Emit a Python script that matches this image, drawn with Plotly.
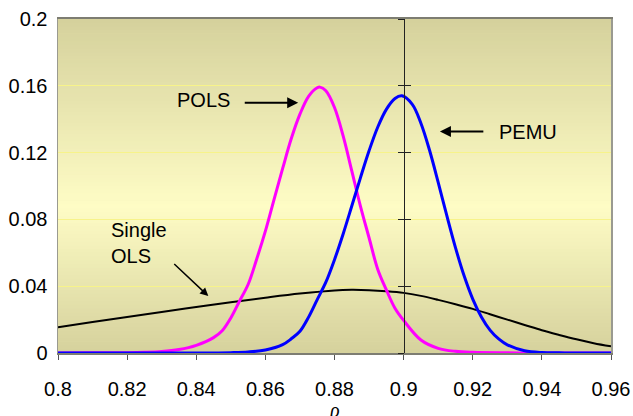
import plotly.graph_objects as go

# ---- data ----
pols_x = [0.800, 0.810, 0.820, 0.825, 0.830, 0.835, 0.840, 0.845, 0.8475, 0.850,
          0.8525, 0.855, 0.8575, 0.860, 0.8625, 0.865, 0.8675, 0.870, 0.8725, 0.875,
          0.8758, 0.8775, 0.880, 0.8825, 0.885, 0.8875, 0.890, 0.8925, 0.895, 0.8975,
          0.900, 0.905, 0.910, 0.915, 0.920, 0.930, 0.940, 0.960]
pols_y = [0.0000, 0.0001, 0.0002, 0.0004, 0.0009, 0.0021, 0.0046, 0.0092, 0.0133, 0.0210,
          0.0310, 0.0410, 0.0563, 0.0730, 0.0919, 0.1105, 0.1284, 0.1430, 0.1537, 0.1588,
          0.1592, 0.1570, 0.1470, 0.1300, 0.1090, 0.0880, 0.0690, 0.0502, 0.0378, 0.0268,
          0.0195, 0.0078, 0.0028, 0.0010, 0.0004, 0.0001, 0.0000, 0.0000]

pemu_x = [0.800, 0.840, 0.850, 0.855, 0.860, 0.865, 0.8675, 0.870, 0.8725, 0.875,
          0.8775, 0.880, 0.8825, 0.885, 0.8875, 0.890, 0.8925, 0.895, 0.8975, 0.8995,
          0.9025, 0.905, 0.9075, 0.910, 0.9125, 0.915, 0.9175, 0.920, 0.9225, 0.925,
          0.9275, 0.930, 0.935, 0.940, 0.945, 0.950, 0.960]
pemu_y = [0.0000, 0.0000, 0.0002, 0.0006, 0.0018, 0.0050, 0.0085, 0.0130, 0.0215, 0.0320,
          0.0424, 0.0559, 0.0713, 0.0880, 0.1049, 0.1211, 0.1352, 0.1459, 0.1524, 0.1540,
          0.1489, 0.1376, 0.1214, 0.1022, 0.0822, 0.0631, 0.0462, 0.0323, 0.0216, 0.0137,
          0.0084, 0.0049, 0.0014, 0.0003, 0.0001, 0.0000, 0.0000]

ols_x = [0.800, 0.810, 0.820, 0.830, 0.840, 0.850, 0.860, 0.870, 0.880, 0.885,
         0.890, 0.895, 0.900, 0.905, 0.910, 0.915, 0.920, 0.925, 0.930, 0.935,
         0.940, 0.945, 0.950, 0.955, 0.960]
ols_y = [0.0154, 0.0185, 0.0215, 0.0246, 0.0275, 0.0304, 0.0331, 0.0356, 0.0375, 0.0378,
         0.0376, 0.0370, 0.0360, 0.0342, 0.0318, 0.0292, 0.0264, 0.0232, 0.0200, 0.0168,
         0.0136, 0.0108, 0.0082, 0.0059, 0.0040]

x_range = [0.8, 0.96]
y_range = [0, 0.2]
y_dtick = 0.04
x_dtick = 0.02
cross_x = 0.9  # where the vertical value axis crosses

FONT = "Liberation Sans, Arial, sans-serif"

fig = go.Figure()
fig.add_trace(go.Scatter(x=ols_x, y=ols_y, mode="lines", line=dict(color="black", width=2, shape="spline", smoothing=1),
                         cliponaxis=False, showlegend=False, hoverinfo="skip"))
fig.add_trace(go.Scatter(x=pols_x, y=pols_y, mode="lines", line=dict(color="#ff00ff", width=3, shape="spline", smoothing=1),
                         cliponaxis=False, showlegend=False, hoverinfo="skip"))
fig.add_trace(go.Scatter(x=pemu_x, y=pemu_y, mode="lines", line=dict(color="#0000ff", width=3, shape="spline", smoothing=1),
                         cliponaxis=False, showlegend=False, hoverinfo="skip"))
# empty traces so the crossing axes are drawn
fig.add_trace(go.Scatter(x=[], y=[], yaxis="y2", showlegend=False, hoverinfo="skip"))
fig.add_trace(go.Scatter(x=[], y=[], yaxis="y3", showlegend=False, hoverinfo="skip"))

# background gradient (dark - light - dark)
def mix(c1, c2, t):
    return "rgb(%d,%d,%d)" % tuple(round(a + (b - a) * t) for a, b in zip(c1, c2))

edge = (213, 209, 156)
mid = (254, 252, 197)
mid_pos = 0.44
N = 90
shapes = []
for i in range(N):
    y0 = i / N
    y1 = (i + 1) / N
    yc = (y0 + y1) / 2
    if yc < mid_pos:
        t = yc / mid_pos
    else:
        t = (1 - yc) / (1 - mid_pos)
    shapes.append(dict(type="rect", xref="paper", yref="paper", x0=0, x1=1, y0=y0, y1=y1 + 0.002,
                       fillcolor=mix(edge, mid, t), line=dict(width=0), layer="below"))

pos = (cross_x - x_range[0]) / (x_range[1] - x_range[0])

tickfont = dict(family=FONT, size=20, color="black")

fig.update_layout(
    width=633, height=416,
    margin=dict(l=58, r=22, t=19, b=63, autoexpand=False),
    paper_bgcolor="white",
    plot_bgcolor=mix(edge, mid, 0.5),
    shapes=shapes,
    xaxis=dict(range=x_range, dtick=x_dtick, tick0=0.8, showgrid=False, zeroline=False,
               showline=True, linecolor="#7d7d72", linewidth=2, mirror=True,
               ticks="outside", ticklen=5, tickcolor="#555", tickwidth=1,
               tickfont=tickfont, ticklabelstandoff=12),
    yaxis=dict(range=y_range, dtick=y_dtick, tick0=0, showgrid=True, gridcolor="#f7f38a", gridwidth=1,
               zeroline=False, showline=True, linecolor="#9a9a90", linewidth=1.5, mirror=True,
               ticks="", tickfont=tickfont, ticklabelstandoff=5),
    yaxis2=dict(range=y_range, dtick=y_dtick, tick0=0, overlaying="y", anchor="free", position=pos,
                showgrid=False, zeroline=False, showline=True, linecolor="#222", linewidth=1,
                ticks="outside", ticklen=6, tickcolor="#222", tickwidth=1, showticklabels=False),
    yaxis3=dict(range=y_range, dtick=y_dtick, tick0=0, overlaying="y", anchor="free", position=pos,
                showgrid=False, zeroline=False, showline=False,
                ticks="inside", ticklen=6, tickcolor="#222", tickwidth=1, showticklabels=False),
    showlegend=False,
)

ann_font = dict(family=FONT, size=20, color="black")
annotations = [
    dict(x=0.8420, y=0.1515, xref="x", yref="y", text="POLS", showarrow=False, font=ann_font),
    dict(x=0.8695, y=0.1499, ax=0.8536, ay=0.1499, xref="x", yref="y", axref="x", ayref="y",
         text="", showarrow=True, arrowhead=2, arrowsize=1.1, arrowwidth=2, arrowcolor="black"),
    dict(x=0.9360, y=0.1321, xref="x", yref="y", text="PEMU", showarrow=False, font=ann_font),
    dict(x=0.9105, y=0.1326, ax=0.9235, ay=0.1326, xref="x", yref="y", axref="x", ayref="y",
         text="", showarrow=True, arrowhead=2, arrowsize=1.1, arrowwidth=2, arrowcolor="black"),
    dict(x=0.8148, y=0.0656, xref="x", yref="y", xanchor="left", align="left",
         text="Single<br>OLS", showarrow=False, font=ann_font),
    dict(x=0.8435, y=0.0341, ax=0.8332, ay=0.0541, xref="x", yref="y", axref="x", ayref="y",
         text="", showarrow=True, arrowhead=2, arrowsize=1.1, arrowwidth=1.5, arrowcolor="black"),
    dict(x=0.5, y=0, xref="paper", yref="paper", yanchor="top", yshift=-44,
         text="<i>ρ</i>", showarrow=False,
         font=dict(family="Liberation Serif, Times New Roman, serif", size=20, color="black")),
]
fig.update_layout(annotations=annotations)

# remove the page's default body margin so the figure sits at the window origin
page_js = "document.body.style.margin='0';document.body.style.overflow='hidden';"
fig.write_html("out.html", post_script=page_js,
               config={"displayModeBar": False, "staticPlot": True})
